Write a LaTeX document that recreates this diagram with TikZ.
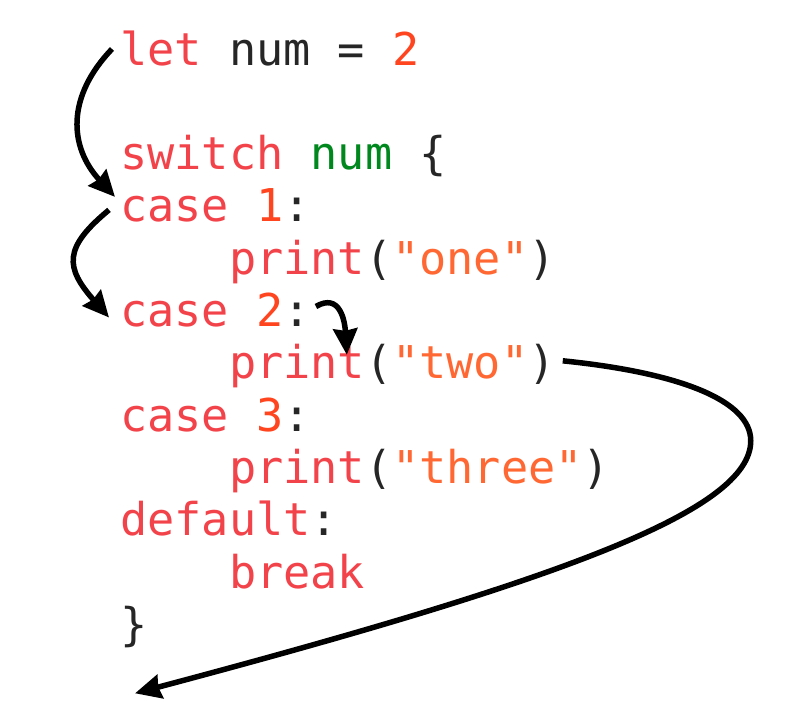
\documentclass[tikz,border=0pt]{standalone}
\usepackage{fontspec}
\setmonofont{DejaVu Sans Mono}
\usetikzlibrary{positioning, arrows.meta, calc}
\def\linepitch{52.3pt}
\def\indentwidth{108.8pt}
\definecolor{kw}{RGB}{243, 67, 74}
\definecolor{num}{RGB}{255, 69, 31}
\definecolor{str}{RGB}{255, 104, 51}
\definecolor{var}{RGB}{0, 136, 30}
\definecolor{plain}{RGB}{38, 38, 38}
\tikzstyle{flow} = [black, -{Stealth[length=26pt, width=24pt, inset=2pt]}, line width=5.5pt]
\tikzstyle{code} = [draw=none, inner sep=0, anchor=base west, text=plain,
  font=\ttfamily\fontsize{45.2pt}{52.3pt}\selectfont]
\tikzset{
  next line/.style={below=\linepitch of #1.base west, anchor=base west},
  indent line/.style={below right=\linepitch and \indentwidth of #1.base west, anchor=base west},
  dedent line/.style={below left=\linepitch and \indentwidth of #1.base west, anchor=base west}
}
\newcommand{\kwd}[1]{{\color{kw}#1}}
\newcommand{\numb}[1]{{\color{num}#1}}
\newcommand{\strg}[1]{{\color{str}#1}}

\begin{document}
\begin{tikzpicture}[x=1pt, y=-1pt]
    \useasboundingbox (0, 0) rectangle (804, 728);
    % nodes
    \node[code] at (120, 65)                    (let)        {\kwd{let} num = \numb{2}};
    \node[code, next line=let, yshift=-52.3pt]  (switch)     {\kwd{switch} {\color{var}num} \{};
    \node[code, next line=switch]               (case1)      {\kwd{case} \numb{1}:};
    \node[code, indent line=case1]              (printone)   {\kwd{print}(\strg{"one"})};
    \node[code, dedent line=printone]           (case2)      {\kwd{case} \numb{2}:};
    \node[code, indent line=case2]              (printtwo)   {\kwd{print}(\strg{"two"})};
    \node[code, dedent line=printtwo]           (case3)      {\kwd{case} \numb{3}:};
    \node[code, indent line=case3]              (printthree) {\kwd{print}(\strg{"three"})};
    \node[code, dedent line=printthree]         (default)    {\kwd{default}:};
    \node[code, indent line=default]            (break)      {\kwd{break}};
    \node[code, dedent line=break]              (close)      {\}};
    \coordinate (turn) at ([shift={(195, 62)}]printtwo.base east);

    % arrows
    \draw[flow] ([shift={(-8, -16)}]let.base west)
      .. controls +(-46, 48) and +(-46, -50) .. ([shift={(-5, -25)}]case1.base west);
    \draw[flow] ([shift={(-11, -12)}]case1.base west)
      .. controls +(-46, 38) and +(-44, -50) .. ([shift={(-11, -9)}]case2.base west);
    \draw[flow] ([shift={(5, -20)}]case2.base east)
      .. controls +(24, -14) and +(-2, -34) .. ([shift={(118, -24)}]printtwo.base west);
    \draw[flow] ([shift={(7, -18)}]printtwo.base east)
      .. controls +(118, 12) and +(0, -40) .. (turn)
      .. controls +(0, 70) and +(425, -113) .. ([shift={(15, 53)}]close.base west);
\end{tikzpicture}
\end{document}
